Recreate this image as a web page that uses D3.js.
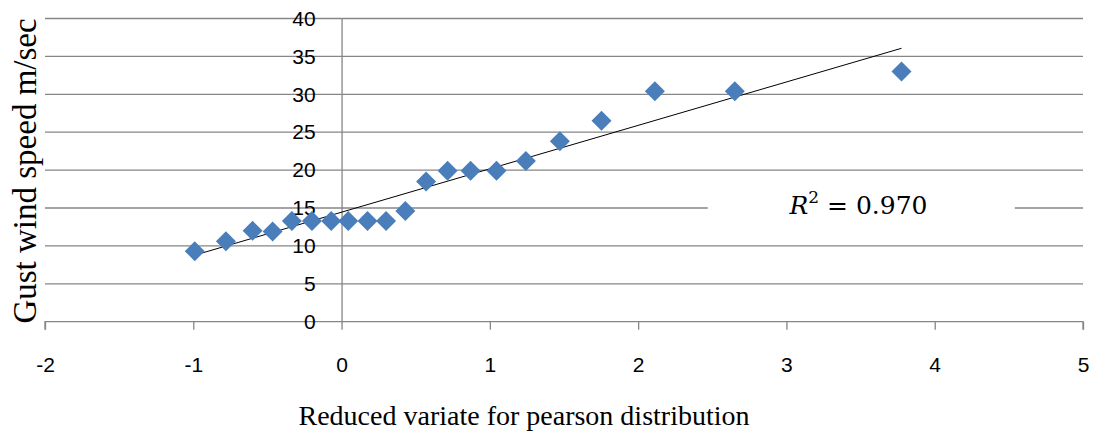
<!DOCTYPE html>
<html>
<head>
<meta charset="utf-8">
<script src="https://cdn.jsdelivr.net/npm/d3@7"></script>
<style>
  body { margin: 0; background: #fff; }
  svg { display: block; }
</style>
</head>
<body>
<div id="chart"></div>
<script>
// data
var xVals = [-0.99, -0.78, -0.60, -0.465, -0.335, -0.20, -0.07, 0.045, 0.175, 0.30,
             0.43, 0.57, 0.715, 0.87, 1.045, 1.243, 1.472, 1.753, 2.113, 2.652, 3.776];
var yVals = [9.3, 10.6, 12.0, 11.9, 13.3, 13.3, 13.3, 13.3, 13.3, 13.3,
             14.6, 18.5, 19.9, 19.9, 19.9, 21.2, 23.8, 26.5, 30.4, 30.4, 33.0];
var trendX = [-0.99, 3.776];
var trendY = [8.78, 36.07];
var xTicks = [-2, -1, 0, 1, 2, 3, 4, 5];
var yTicks = [0, 5, 10, 15, 20, 25, 30, 35, 40];

var W = 1093, H = 436;
var margin = { top: 18.5, right: 10, bottom: 114.5, left: 45 };
var width = 1083 - margin.left;
var height = 321.7 - margin.top;

var svg = d3.select("#chart").append("svg")
  .attr("width", W)
  .attr("height", H);

var g = svg.append("g")
  .attr("transform", "translate(" + margin.left + "," + margin.top + ")");

var x = d3.scaleLinear().domain([-2, 5]).range([0, width]);
var y = d3.scaleLinear().domain([0, 40]).range([height, 0]);

var gridColor = "#868686";

// horizontal gridlines
g.append("g")
  .selectAll("line")
  .data(yTicks.filter(function(d) { return d > 0; }))
  .enter().append("line")
  .attr("x1", 0)
  .attr("x2", width)
  .attr("y1", function(d) { return y(d); })
  .attr("y2", function(d) { return y(d); })
  .attr("stroke", gridColor)
  .attr("stroke-width", 1.3);

// x axis with ticks hanging down
var xAxis = d3.axisBottom(x)
  .tickValues(xTicks)
  .tickSize(8)
  .tickFormat(d3.format("d"));

var xg = g.append("g")
  .attr("transform", "translate(0," + height + ")")
  .call(xAxis);
xg.select(".domain")
  .attr("stroke", gridColor)
  .attr("stroke-width", 1.3)
  .attr("d", "M0,8V0H" + width + "V8");
xg.selectAll(".tick line").attr("stroke", gridColor).attr("stroke-width", 1.3);
xg.selectAll(".tick text")
  .attr("y", 0)
  .attr("dy", "50px")
  .attr("fill", "#000")
  .style("font-family", "'Liberation Sans', Arial, sans-serif")
  .style("font-size", "21px")
  .text(function(d) { return d < 0 ? "-" + Math.abs(d) : d; });

// y axis: vertical line at x = 0, labels left of it
var yAxis = d3.axisLeft(y)
  .tickValues(yTicks)
  .tickSize(0)
  .tickPadding(4);

var yg = g.append("g")
  .attr("transform", "translate(" + x(0) + ",0)")
  .call(yAxis);
yg.select(".domain").attr("stroke", gridColor).attr("stroke-width", 1.3);
yg.selectAll(".tick text")
  .attr("x", -26)
  .attr("fill", "#000")
  .style("font-family", "'Liberation Sans', Arial, sans-serif")
  .style("font-size", "21px");

// trend line
g.append("line")
  .attr("x1", x(trendX[0]))
  .attr("y1", y(trendY[0]))
  .attr("x2", x(trendX[1]))
  .attr("y2", y(trendY[1]))
  .attr("stroke", "#000")
  .attr("stroke-width", 1);

// diamond markers
var pts = xVals.map(function(v, i) { return { x: v, y: yVals[i] }; });
g.selectAll(".pt")
  .data(pts)
  .enter().append("path")
  .attr("class", "pt")
  .attr("d", "M0,-10L10,0L0,10L-10,0Z")
  .attr("transform", function(d) { return "translate(" + x(d.x) + "," + y(d.y) + ")"; })
  .attr("fill", "#4a7ebb");

// R^2 label box (hides gridline behind it)
g.append("rect")
  .attr("x", x(2.47))
  .attr("y", y(17.2))
  .attr("width", x(4.54) - x(2.47))
  .attr("height", y(13.2) - y(17.2))
  .attr("fill", "#fff");

var r2 = g.append("text")
  .attr("x", x(3.02))
  .attr("y", y(14.2))
  .attr("fill", "#000")
  .style("font-family", "'DejaVu Serif', 'Liberation Serif', serif")
  .style("font-size", "25px");
r2.append("tspan").style("font-style", "italic").text("R");
r2.append("tspan").attr("dy", -11).style("font-size", "17px").text("2");
r2.append("tspan").attr("dy", 11).text(" = 0.970");

// axis titles
svg.append("text")
  .attr("transform", "translate(36," + 171 + ") rotate(-90)")
  .attr("text-anchor", "middle")
  .attr("fill", "#000")
  .style("font-family", "'Liberation Serif', 'Times New Roman', serif")
  .style("font-size", "33px")
  .text("Gust wind speed m/sec");

svg.append("text")
  .attr("x", 524)
  .attr("y", 425)
  .attr("text-anchor", "middle")
  .attr("fill", "#000")
  .style("font-family", "'Liberation Serif', 'Times New Roman', serif")
  .style("font-size", "28px")
  .text("Reduced variate for pearson distribution");
</script>
</body>
</html>
